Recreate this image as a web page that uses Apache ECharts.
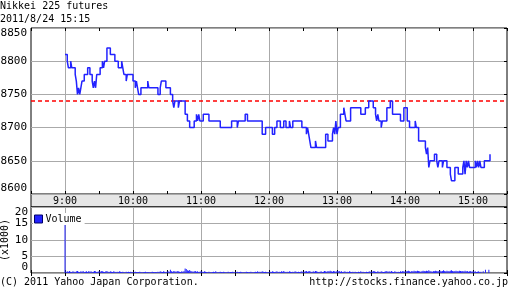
<!DOCTYPE html>
<html><head><meta charset="utf-8">
<script src="https://cdn.jsdelivr.net/npm/echarts@6/dist/echarts.min.js"></script>
<style>html,body{margin:0;padding:0;background:#fff}#c{width:512px;height:301px}</style>
</head><body><div id="c"></div>
<script>
const FONT = '"DejaVu Sans Mono", "Liberation Mono", monospace';
// minutes after 9:00 at which the price changed, and the new price
const priceMin = [0,2,3,5,6,9,10,11,12,13,14,15,17,20,22,24,25,26,27,28,31,33,34,35,37,40,44,47,50,51,52,54,55,60,62,63,64,65,67,73,74,82,84,85,89,93,95,96,97,100,101,106,108,110,114,116,117,118,119,122,127,137,147,152,153,159,161,174,177,183,185,187,190,193,195,198,199,201,209,213,214,215,216,217,221,222,230,232,236,237,238,239,240,241,243,246,247,248,252,261,265,268,272,274,275,276,277,279,280,284,287,289,296,299,302,304,309,310,312,318,319,320,321,322,326,328,329,330,333,334,337,340,341,344,347,351,352,353,354,355,356,357,362,363,364,365,366,367,370,375];
const priceVal = [8810,8800,8790,8800,8790,8780,8770,8750,8760,8750,8760,8770,8780,8790,8780,8770,8760,8770,8760,8780,8790,8800,8790,8800,8820,8810,8800,8790,8800,8790,8780,8770,8780,8770,8760,8770,8760,8750,8760,8770,8760,8750,8760,8770,8760,8750,8740,8730,8740,8730,8740,8720,8710,8700,8710,8720,8710,8720,8710,8720,8710,8700,8710,8700,8710,8720,8710,8690,8700,8690,8700,8710,8700,8710,8700,8710,8700,8710,8700,8690,8700,8690,8680,8670,8680,8670,8690,8680,8690,8700,8690,8710,8690,8700,8720,8730,8720,8710,8730,8720,8730,8740,8730,8720,8710,8720,8710,8700,8710,8730,8740,8720,8710,8730,8710,8700,8710,8700,8680,8670,8660,8670,8640,8650,8660,8650,8640,8650,8640,8650,8640,8630,8620,8640,8630,8640,8650,8630,8650,8640,8650,8640,8650,8640,8650,8640,8650,8640,8650,8660];
const prevClose = 8740;
// volume per minute (x1000), starting 9:00
const volume = [15.2,
0.3,0.5,0.4,0.6,0.4,0.3,0.5,0.4,0.2,0.5,0.6,0.4,0.3,0.5,0.4,
0.6,0.3,0.4,0.5,0.3,0.6,0.4,0.5,0.3,0.4,0.6,0.5,0.3,0.4,0.5,
0.4,0.6,0.5,0.4,0.3,0.5,0.6,0.4,0.3,0.5,0.4,0.3,0.5,0.4,0.3,
0.4,0.3,0.5,0.4,0.3,0.4,0.3,0.2,0.4,0.3,0.4,0.3,0.4,0.3,0.2,
0.3,0.4,0.3,0.2,0.3,0.4,0.3,0.2,0.3,0.3,0.4,0.2,0.3,0.3,0.2,
0.3,0.4,0.3,0.2,0.3,0.3,0.4,0.3,0.5,0.4,0.3,0.5,0.4,0.3,0.4,
0.5,0.4,1.0,0.5,0.4,0.6,0.5,0.4,0.6,0.5,0.4,0.3,0.5,0.4,0.6,
1.4,1.2,0.8,0.7,0.9,0.6,0.5,0.4,0.5,0.6,0.4,0.5,0.3,0.4,0.5,
0.4,0.3,0.5,0.4,0.3,0.2,0.4,0.3,0.2,0.3,0.4,0.3,0.5,0.3,0.2,
0.3,0.4,0.3,0.2,0.4,0.3,0.2,0.3,0.4,0.2,0.3,0.3,0.4,0.3,0.2,
0.3,0.4,0.2,0.3,0.4,0.3,0.2,0.3,0.2,0.4,0.3,0.2,0.3,0.4,0.3,
0.2,0.3,0.4,0.3,0.5,0.3,0.4,0.3,0.5,0.4,0.3,0.4,0.3,0.2,0.3,
0.4,0.3,0.5,0.4,0.3,0.4,0.5,0.3,0.4,0.3,0.5,0.4,0.6,0.4,0.3,
0.4,0.3,0.5,0.4,0.3,0.4,0.3,0.5,0.4,0.3,0.4,0.3,0.4,0.5,0.3,
0.4,0.5,0.6,0.4,0.5,0.6,0.4,0.3,0.5,0.4,0.6,0.5,0.4,0.3,0.4,
0.5,0.3,0.4,0.6,0.5,0.4,0.6,0.5,0.7,0.5,0.4,0.6,0.5,0.4,0.6,
0.5,0.6,0.4,0.5,0.3,0.4,0.5,0.3,0.4,0.3,0.5,0.4,0.3,0.4,0.3,
0.4,0.3,0.2,0.4,0.3,0.5,0.3,0.4,0.3,0.2,0.4,0.3,0.4,0.5,0.3,
0.4,0.6,0.5,0.4,0.3,0.5,0.4,0.3,0.5,0.4,0.3,0.4,0.5,0.6,0.4,
0.5,0.4,0.6,0.4,0.3,0.5,0.4,0.3,0.4,0.3,0.5,0.4,0.6,0.5,0.4,
0.5,0.6,0.7,0.5,0.4,0.6,0.5,0.7,0.6,0.5,0.7,0.6,0.5,0.4,0.6,
0.7,0.6,0.5,0.7,0.6,0.8,0.6,0.5,0.4,0.6,0.5,0.7,0.6,0.5,0.6,
0.7,0.5,0.6,0.8,0.6,0.5,0.7,0.6,0.5,0.7,0.8,0.6,0.5,0.6,0.7,
0.6,0.5,0.7,0.6,0.5,0.6,0.5,0.7,0.5,0.6,0.4,0.5,0.6,0.4,0.5,
0.4,0.5,0.3,0.4,0.5,0.3,0.4,0.0,0.5,0.0,1.0,0.0,0.0,1.0,0.0];
const openMin = 540;           // 9:00 in minutes of day
const xMin = 510, xMax = 930;  // 8:30 .. 15:30
const priceMinY = 8600, priceMaxY = 8850, priceStep = 50;
const volMaxY = 20, volStep = 5;

const hourFmt = v => (v % 60 === 0) ? (Math.floor(v / 60) + ':00') : '';
const plainFmt = v => String(v);
const txt = (size) => ({fontFamily: FONT, fontSize: size, fontWeight: 'normal', color: '#000'});
const gridColor = '#aaaaaa';
const blue = '#2222ff';

function xAx(grid, pos, labels, split) {
  return {
    type: 'value', gridIndex: grid, position: pos, min: xMin, max: xMax, interval: 30,
    axisLine: {show: false},
    axisTick: {show: true, inside: true, length: 3, lineStyle: {color: '#000'}},
    axisLabel: labels ? Object.assign({show: true, formatter: hourFmt, margin: 2}, txt(10)) : {show: false},
    splitLine: {show: split, lineStyle: {color: ['rgba(0,0,0,0)', gridColor], width: 1}}
  };
}

const chart = echarts.init(document.getElementById('c'), null, {renderer: 'canvas'});
chart.setOption({
  animation: false,
  backgroundColor: '#fff',
  title: [
    {text: 'Nikkei 225 futures', left: 0, top: 1, padding: 0, textStyle: txt(10)},
    {text: '2011/8/24 15:15', left: 0, top: 14, padding: 0, textStyle: txt(10)},
    {text: '(C) 2011 Yahoo Japan Corporation.', left: 0, top: 277, padding: 0, textStyle: txt(10)},
    {text: 'http://stocks.finance.yahoo.co.jp', right: 4, top: 277, padding: 0, textStyle: txt(10)}
  ],
  grid: [
    {left: 31, top: 28, width: 476, height: 166, show: true, borderColor: '#000', borderWidth: 1, backgroundColor: '#fff',
     containLabel: false, outerBoundsMode: 'none'},
    {left: 31, top: 207, width: 476, height: 66, show: true, borderColor: '#000', borderWidth: 1, backgroundColor: '#fff',
     containLabel: false, outerBoundsMode: 'none'}
  ],
  graphic: [
    {type: 'rect', z: -1, shape: {x: 31, y: 194, width: 476, height: 13}, style: {fill: '#e6e6e6', stroke: '#000', lineWidth: 1}}
  ],
  legend: {
    data: ['Volume'], left: 33, top: 213, padding: [1, 3, 1, 1], itemWidth: 8, itemHeight: 8, itemGap: 2,
    icon: 'rect', backgroundColor: '#fff', textStyle: Object.assign(txt(10), {padding: [0, 0, 0, -2]}),
    itemStyle: {borderColor: '#000066', borderWidth: 1}
  },
  xAxis: [
    xAx(0, 'bottom', true, true),
    xAx(0, 'top', false, false),
    xAx(1, 'bottom', false, true),
    xAx(1, 'top', false, false)
  ],
  yAxis: [
    {type: 'value', gridIndex: 0, position: 'left', min: priceMinY, max: priceMaxY, interval: priceStep,
     axisLine: {show: false}, axisTick: {show: false},
     axisLabel: Object.assign({margin: 4, formatter: plainFmt, hideOverlap: false, verticalAlignMinLabel: 'bottom', verticalAlignMaxLabel: 'top'}, txt(11)),
     splitLine: {show: true, lineStyle: {color: gridColor}}},
    {type: 'value', gridIndex: 0, position: 'right', min: priceMinY, max: priceMaxY, interval: priceStep,
     axisLine: {show: false}, axisTick: {show: true, inside: true, length: 3, lineStyle: {color: '#000'}},
     axisLabel: {show: false}, splitLine: {show: false}},
    {type: 'value', gridIndex: 1, position: 'left', min: 0, max: volMaxY, interval: volStep,
     name: '(x1000)', nameLocation: 'middle', nameRotate: 90, nameGap: 21, nameMoveOverlap: false,
     nameTextStyle: txt(10),
     axisLine: {show: false}, axisTick: {show: false},
     axisLabel: Object.assign({margin: 3, formatter: plainFmt, hideOverlap: false, verticalAlignMinLabel: 'bottom', verticalAlignMaxLabel: 'top'}, txt(11)),
     splitLine: {show: true, lineStyle: {color: gridColor}}},
    {type: 'value', gridIndex: 1, position: 'right', min: 0, max: volMaxY, interval: volStep,
     axisLine: {show: false}, axisTick: {show: true, inside: true, length: 3, lineStyle: {color: '#000'}},
     axisLabel: {show: false}, splitLine: {show: false}}
  ],
  series: [
    {name: 'Previous close', type: 'line', xAxisIndex: 0, yAxisIndex: 0, showSymbol: false, symbol: 'none',
     silent: true, z: 1,
     data: [[xMin, prevClose], [xMax, prevClose]],
     lineStyle: {color: '#ff0000', type: [4, 3], width: 1.4}},
    {name: 'Nikkei 225 futures', type: 'line', xAxisIndex: 0, yAxisIndex: 0, step: 'end',
     showSymbol: false, symbol: 'none', z: 3,
     data: priceMin.map((m, i) => [openMin + m, priceVal[i]]),
     lineStyle: {color: blue, width: 1.5}, itemStyle: {color: blue}},
    {name: 'Volume', type: 'bar', xAxisIndex: 2, yAxisIndex: 2, barWidth: 1,
     data: volume.map((v, i) => [openMin + i, v]),
     itemStyle: {color: blue}}
  ]
});
</script></body></html>
